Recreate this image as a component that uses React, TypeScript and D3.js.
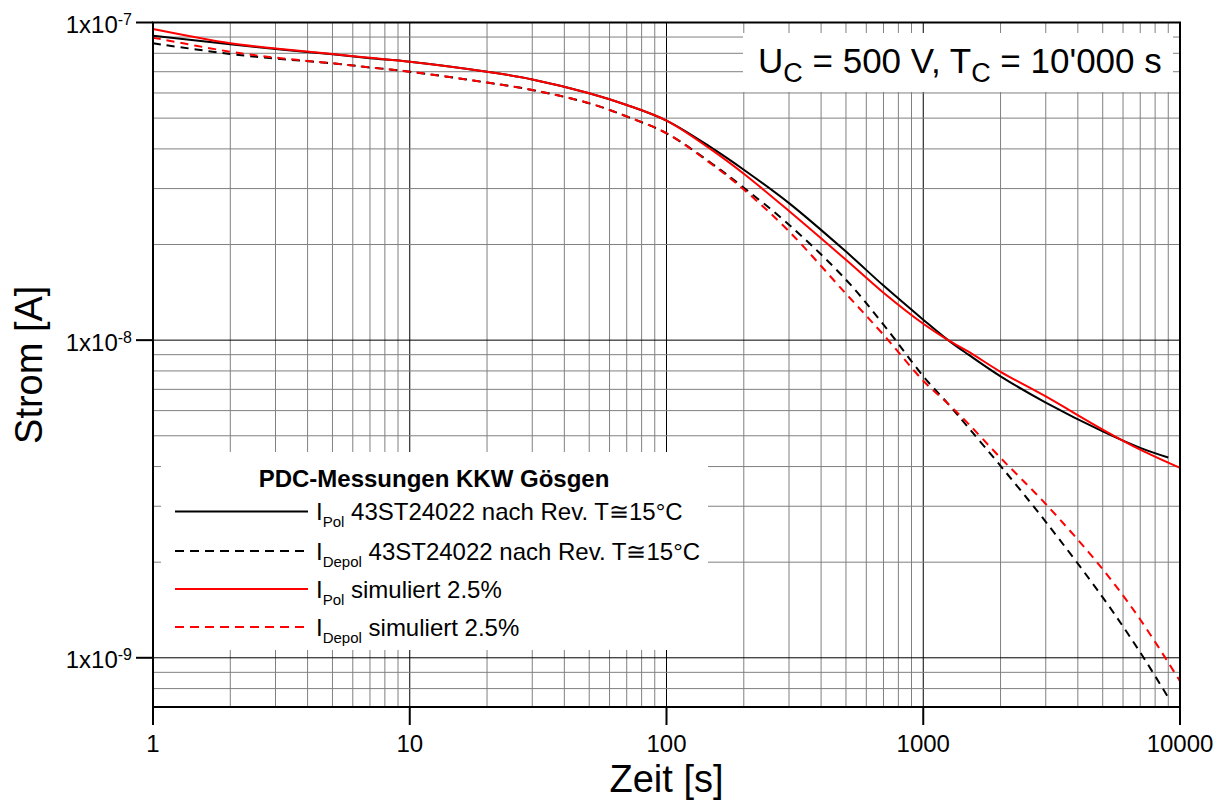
import React from 'react';
import * as d3 from 'd3';

// time axis (s) for measured curves (end at ~9000 s) and simulated curves (to 10000 s)
const timeMeas = [1, 2, 3, 5, 7, 10, 20, 30, 50, 70, 100, 150, 200, 300, 500, 700, 1000, 1250, 1500, 2000, 3000, 5000, 7000, 9000];
const timeSim = [1, 2, 3, 5, 7, 10, 20, 30, 50, 70, 100, 150, 200, 300, 500, 700, 1000, 1250, 1500, 2000, 3000, 5000, 7000, 10000];

// currents in A
const iPolMeas = [9.09e-8, 8.54e-8, 8.25e-8, 7.94e-8, 7.72e-8, 7.53e-8, 7.0e-8, 6.62e-8, 5.99e-8, 5.5e-8, 4.91e-8, 4.03e-8, 3.44e-8, 2.7e-8, 1.9e-8, 1.485e-8, 1.16e-8, 1.0e-8, 9.0e-9, 7.69e-9, 6.36e-9, 5.16e-9, 4.58e-9, 4.27e-9];
const iDepolMeas = [8.6e-8, 7.96e-8, 7.7e-8, 7.44e-8, 7.22e-8, 7.0e-8, 6.47e-8, 6.13e-8, 5.57e-8, 5.06e-8, 4.48e-8, 3.6e-8, 3.02e-8, 2.31e-8, 1.55e-8, 1.12e-8, 7.7e-9, 6.3e-9, 5.3e-9, 4.02e-9, 2.68e-9, 1.55e-9, 1.04e-9, 7.5e-10];
const iPolSim = [9.54e-8, 8.6e-8, 8.28e-8, 7.96e-8, 7.74e-8, 7.53e-8, 7.0e-8, 6.62e-8, 5.99e-8, 5.5e-8, 4.91e-8, 3.97e-8, 3.34e-8, 2.55e-8, 1.79e-8, 1.41e-8, 1.126e-8, 1.0e-8, 9.2e-9, 7.95e-9, 6.65e-9, 5.23e-9, 4.52e-9, 3.96e-9];
const iDepolSim = [8.96e-8, 8.09e-8, 7.75e-8, 7.44e-8, 7.22e-8, 7.0e-8, 6.47e-8, 6.13e-8, 5.57e-8, 5.06e-8, 4.48e-8, 3.58e-8, 2.98e-8, 2.2e-8, 1.4e-8, 1.04e-8, 7.45e-9, 6.3e-9, 5.45e-9, 4.26e-9, 3.05e-9, 1.9e-9, 1.32e-9, 8.44e-10];

const xTickLabels = ['1', '10', '100', '1000', '10000'];
const yTickExps = ['-7', '-8', '-9'];

const legendTitle = 'PDC-Messungen KKW Gösgen';
const legendItems = [
    { sub: 'Pol', text: ' 43ST24022 nach Rev. T\u224515°C' },
    { sub: 'Depol', text: ' 43ST24022 nach Rev. T\u224515°C' },
    { sub: 'Pol', text: ' simuliert 2.5%' },
    { sub: 'Depol', text: ' simuliert 2.5%' },
];

const FONT = '"Liberation Sans", Arial, Helvetica, sans-serif';

const App = () => {
    const left = 153, right = 1180, top = 22.5, bottom = 707;
    const x = d3.scaleLog().domain([1, 10000]).range([left, right]);
    const y = d3.scaleLog().domain([7e-10, 1e-7]).range([bottom, top]);

    const isMajor = (v: number) => Math.abs(Math.log10(v) - Math.round(Math.log10(v))) < 1e-6;

    const series = [
        { t: timeMeas, v: iPolMeas, color: '#000000', dash: null },
        { t: timeMeas, v: iDepolMeas, color: '#000000', dash: '8,6' },
        { t: timeSim, v: iPolSim, color: '#ff0000', dash: null },
        { t: timeSim, v: iDepolSim, color: '#ff0000', dash: '8,6' },
    ];

    const line = d3.line<[number, number]>()
        .x(d => x(d[0]))
        .y(d => y(d[1]))
        .curve(d3.curveCatmullRom.alpha(0.5));

    const xTicks = x.ticks();
    const yTicks = y.ticks();

    const rowY = [511.5, 551, 589, 627];

    return (
        <svg width={1224} height={802} style={{ position: 'absolute', left: 0, top: 0, background: '#fff' }} fontFamily={FONT}>
            <rect x={0} y={0} width={1224} height={802} fill="#fff" />

            {/* grid */}
            {xTicks.map((v, i) => (
                <line key={'gx' + i} x1={x(v)} x2={x(v)} y1={top} y2={bottom}
                    stroke={isMajor(v) ? '#000' : '#808080'} strokeWidth={1} />
            ))}
            {yTicks.map((v, i) => (
                <line key={'gy' + i} x1={left} x2={right} y1={y(v)} y2={y(v)}
                    stroke={isMajor(v) ? '#000' : '#808080'} strokeWidth={1} />
            ))}

            {/* info box */}
            <rect x={743} y={33} width={430} height={59} fill="#fff" />
            <text x={758} y={73} fontSize={35} fill="#000" style={{ whiteSpace: 'pre' }}>
                <tspan>U</tspan>
                <tspan fontSize={27} dy={9}>C</tspan>
                <tspan dy={-9}> = 500 V, T</tspan>
                <tspan fontSize={27} dy={9}>C</tspan>
                <tspan dy={-9}> = 10'000 s</tspan>
            </text>

            {/* legend */}
            <rect x={161} y={452} width={547} height={198} fill="#fff" />
            <text x={434} y={487} fontSize={24} fontWeight="bold" textAnchor="middle" fill="#000">{legendTitle}</text>
            {legendItems.map((it, i) => (
                <g key={'lg' + i}>
                    <line x1={175} x2={308} y1={rowY[i]} y2={rowY[i]}
                        stroke={series[i].color} strokeWidth={2}
                        strokeDasharray={series[i].dash ? '9,6' : undefined} />
                    <text x={316} y={rowY[i] + 8.5} fontSize={24} fill="#000" style={{ whiteSpace: 'pre' }}>
                        <tspan>I</tspan>
                        <tspan fontSize={15} dy={7}>{it.sub}</tspan>
                        <tspan dy={-7}>{it.text}</tspan>
                    </text>
                </g>
            ))}

            {/* curves */}
            {series.map((s, i) => (
                <path key={'s' + i}
                    d={line(s.t.map((t, j) => [t, s.v[j]] as [number, number])) || ''}
                    fill="none" stroke={s.color} strokeWidth={2}
                    strokeDasharray={s.dash || undefined} />
            ))}

            {/* frame */}
            <rect x={left} y={top} width={right - left} height={bottom - top} fill="none" stroke="#000" strokeWidth={2} />

            {/* x axis */}
            {xTickLabels.map((lab, i) => {
                const v = Math.pow(10, i);
                return (
                    <g key={'xt' + i}>
                        <line x1={x(v)} x2={x(v)} y1={bottom} y2={bottom + 18} stroke="#000" strokeWidth={2} />
                        <text x={x(v)} y={752} fontSize={24} textAnchor="middle" fill="#000">{lab}</text>
                    </g>
                );
            })}
            <text x={(left + right) / 2} y={792} fontSize={38} textAnchor="middle" fill="#000">Zeit [s]</text>

            {/* y axis */}
            {yTickExps.map((e, i) => {
                const v = Math.pow(10, +e);
                return (
                    <g key={'yt' + i}>
                        <line x1={136} x2={left} y1={y(v)} y2={y(v)} stroke="#000" strokeWidth={2} />
                        <text x={132} y={y(v) + 10.5} fontSize={24} textAnchor="end" fill="#000">
                            <tspan>1x10</tspan>
                            <tspan fontSize={16} dy={-8}>{e}</tspan>
                        </text>
                    </g>
                );
            })}
            <text transform={`translate(42,${(top + bottom) / 2}) rotate(-90)`} fontSize={38} textAnchor="middle" fill="#000">Strom [A]</text>
        </svg>
    );
};

export default App;
